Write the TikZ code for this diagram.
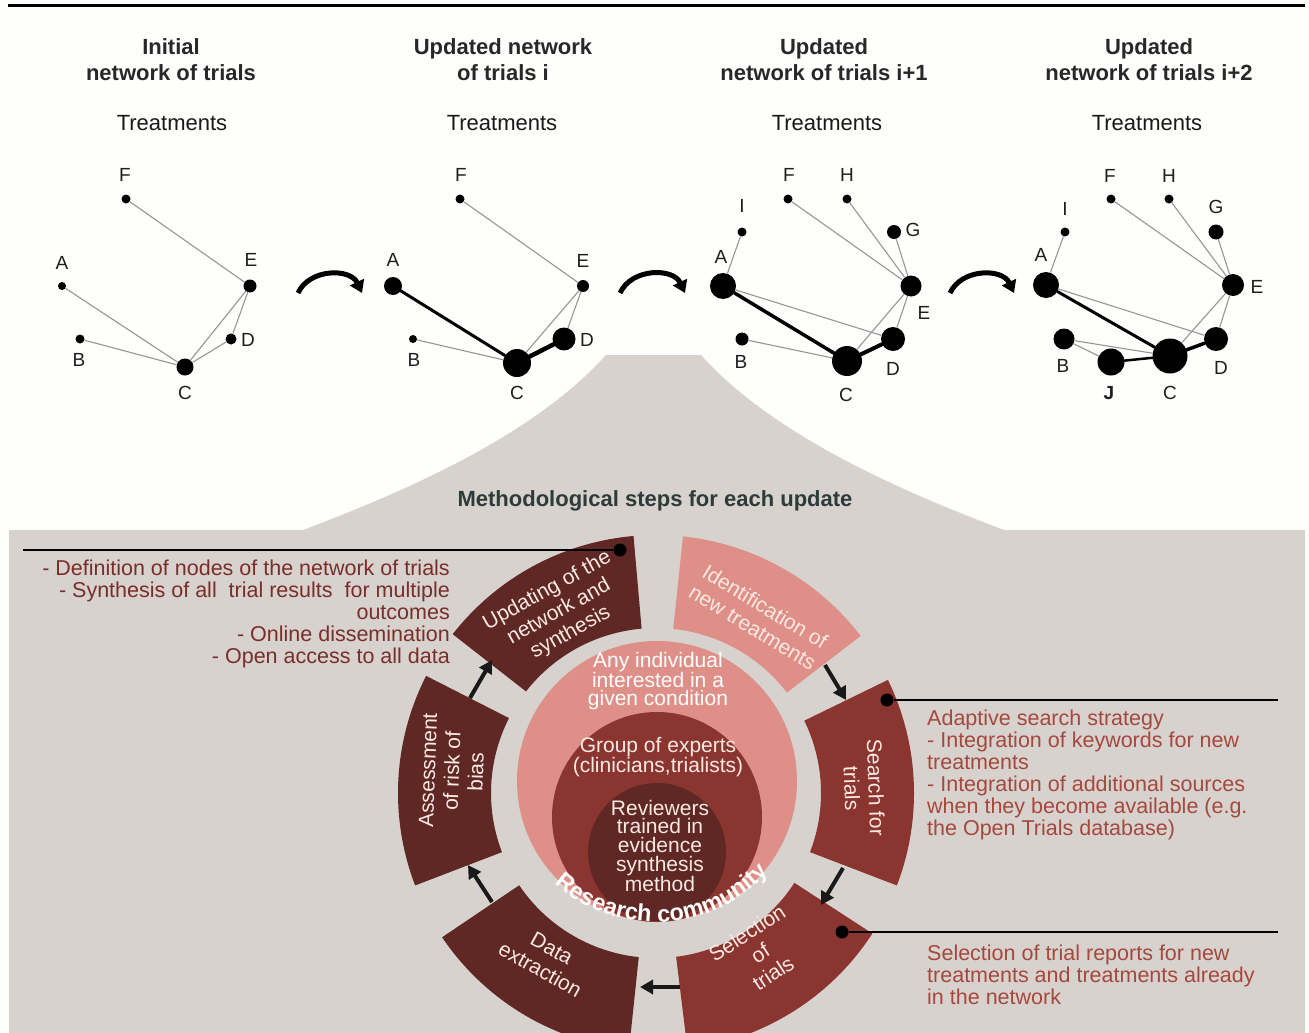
\documentclass[tikz,border=0pt]{standalone}
\usepackage{fontspec}
\setmainfont{Liberation Sans}
\usetikzlibrary{arrows.meta,calc,decorations.text}

\definecolor{paper}{RGB}{254,254,252}
\definecolor{mount}{RGB}{215,210,205}
\definecolor{darkseg}{RGB}{95,40,37}
\definecolor{midseg}{RGB}{139,53,48}
\definecolor{lightseg}{RGB}{222,143,136}
\definecolor{segtext}{RGB}{250,232,226}
\definecolor{leftnote}{RGB}{122,46,42}
\definecolor{rightnote}{RGB}{165,72,62}
\definecolor{titletxt}{RGB}{45,60,58}
\definecolor{headtxt}{RGB}{40,40,40}
\definecolor{lbltxt}{RGB}{30,30,30}
\definecolor{edgegray}{RGB}{150,150,150}

% annular sector of the process wheel: colour, start angle, end angle
\newcommand\ringpart[3]{%
  \fill[#1] ($(W)+(#2:258)$) arc[start angle=#2,end angle=#3,radius=258]
    -- ($(W)+(#3:165)$) arc[start angle=#3,end angle=#2,radius=165] -- cycle;}

\tikzset{
  head/.style={font=\fontsize{22}{26}\selectfont\bfseries, text=headtxt, align=center, anchor=north, inner sep=0pt},
  treat/.style={font=\fontsize{22}{26}\selectfont, text=black!90, anchor=base, inner sep=0pt},
  lbl/.style={font=\fontsize{19}{20}\selectfont, text=lbltxt, inner sep=0pt},
  dot/.style={circle, fill=black, inner sep=0pt, minimum size=#1},
  lightedge/.style={draw=edgegray, line width=1.1pt},
  boldedge/.style={draw=black, line width=#1, line cap=round},
  bendarrow/.style={draw=black, line width=5pt, -{Triangle[length=12pt,width=15pt]}},
  wheelarrow/.style={draw=black!90, line width=4pt, -{Triangle[length=13pt,width=14pt]}},
  segtxt/.style={font=\fontsize{21}{24}\selectfont, text=segtext, align=center, inner sep=0pt},
  coretxt/.style={font=\fontsize{21}{#1}\selectfont, text=segtext, align=center, inner sep=0pt},
  note/.style={font=\fontsize{21.5}{22}\selectfont, inner sep=0pt},
  notedot/.style={circle, fill=black, inner sep=0pt, minimum size=13pt},
  noteline/.style={draw=black, line width=2.4pt},
}

\begin{document}
\begin{tikzpicture}[x=1pt,y=1pt]
\useasboundingbox (0,0) rectangle (1309,-1033);
\clip (0,0) rectangle (1309,-1033);
\fill[paper] (0,0) rectangle (1309,-1033);

% top rule
\draw[line width=3pt, black] (8,-5.5) -- (1305,-5.5);

% grey mountain holding the process wheel
\fill[mount] (9,-1033) -- (9,-530) -- (303,-530)
  .. controls (390,-497) and (530,-440) .. (606,-355) -- (701,-355)
  .. controls (777,-440) and (917,-497) .. (1004,-530)
  -- (1305,-530) -- (1305,-1033) -- cycle;

% headings
\node[head] (h1) at (171,-38) {Initial\\network of trials};
\node[head] (h2) at (503,-38) {Updated network\\of trials i};
\node[head] (h3) at (824,-38) {Updated\\network of trials i+1};
\node[head] (h4) at (1149,-38) {Updated\\network of trials i+2};
\node[treat] (t1) at (172,-130.5) {Treatments};
\node[treat] (t2) at (502,-130.5) {Treatments};
\node[treat] (t3) at (827,-130.5) {Treatments};
\node[treat] (t4) at (1147,-130.5) {Treatments};

% ---- network 1
\node[dot=9] (aF) at (126,-199) {};
\node[dot=8] (aA) at (62,-286) {};
\node[dot=13] (aE) at (250,-286) {};
\node[dot=9] (aB) at (80,-339) {};
\node[dot=11] (aD) at (231,-339) {};
\node[dot=17] (aC) at (185,-367) {};
\node[lbl] (aFl) at (125,-175) {F};
\node[lbl] (aAl) at (62,-263) {A};
\node[lbl] (aEl) at (251,-260) {E};
\node[lbl] (aBl) at (79,-360) {B};
\node[lbl] (aDl) at (248,-340) {D};
\node[lbl] (aCl) at (185,-393) {C};
\path[lightedge] (aF) -- (aE) (aA) -- (aC) (aB) -- (aC) (aC) -- (aE) (aC) -- (aD) (aD) -- (aE);

% ---- network 2
\node[dot=9] (bF) at (460,-199) {};
\node[dot=18] (bA) at (393,-286) {};
\node[dot=12] (bE) at (583,-286) {};
\node[dot=8] (bB) at (413,-339) {};
\node[dot=23] (bD) at (564,-339) {};
\node[dot=28] (bC) at (517,-363) {};
\node[lbl] (bFl) at (461,-175) {F};
\node[lbl] (bAl) at (393,-260) {A};
\node[lbl] (bEl) at (583,-261) {E};
\node[lbl] (bBl) at (414,-360) {B};
\node[lbl] (bDl) at (587,-340) {D};
\node[lbl] (bCl) at (517,-393) {C};
\path[lightedge] (bF) -- (bE) (bB) -- (bC) (bC) -- (bE) (bD) -- (bE);
\path[boldedge=3pt] (bA) -- (bC);
\path[boldedge=4.5pt] (bC) -- (bD);

% ---- network 3
\node[dot=9] (cI) at (742,-232) {};
\node[dot=9] (cF) at (788,-199) {};
\node[dot=9] (cH) at (847,-199) {};
\node[dot=14] (cG) at (894,-232) {};
\node[dot=26] (cA) at (723,-286) {};
\node[dot=21] (cE) at (911,-286) {};
\node[dot=13] (cB) at (742,-339) {};
\node[dot=24] (cD) at (893,-339) {};
\node[dot=30] (cC) at (847,-361) {};
\node[lbl] (cIl) at (742,-206) {I};
\node[lbl] (cFl) at (789,-175) {F};
\node[lbl] (cHl) at (847,-175) {H};
\node[lbl] (cGl) at (913,-230) {G};
\node[lbl] (cAl) at (721,-257) {A};
\node[lbl] (cEl) at (924,-313) {E};
\node[lbl] (cBl) at (741,-362) {B};
\node[lbl] (cDl) at (893,-369) {D};
\node[lbl] (cCl) at (846,-395) {C};
\path[lightedge] (cI) -- (cA) (cF) -- (cE) (cH) -- (cE) (cG) -- (cE) (cA) -- (cD)
  (cB) -- (cC) (cC) -- (cE) (cD) -- (cE);
\path[boldedge=3.5pt] (cA) -- (cC);
\path[boldedge=4pt] (cC) -- (cD);

% ---- network 4
\node[dot=9] (dI) at (1065,-232) {};
\node[dot=9] (dF) at (1111,-199) {};
\node[dot=9] (dH) at (1169,-199) {};
\node[dot=15] (dG) at (1216,-232) {};
\node[dot=26] (dA) at (1046,-285) {};
\node[dot=22] (dE) at (1233,-285) {};
\node[dot=21] (dB) at (1064,-339) {};
\node[dot=27] (dJ) at (1111,-362) {};
\node[dot=35] (dC) at (1170,-356) {};
\node[dot=24] (dD) at (1216,-339) {};
\node[lbl] (dIl) at (1065,-209) {I};
\node[lbl] (dFl) at (1110,-176) {F};
\node[lbl] (dHl) at (1169,-176) {H};
\node[lbl] (dGl) at (1216,-207) {G};
\node[lbl] (dAl) at (1041,-255) {A};
\node[lbl] (dEl) at (1257,-287) {E};
\node[lbl] (dBl) at (1063,-366) {B};
\node[lbl, font=\fontsize{19}{20}\selectfont\bfseries] (dJl) at (1109,-393) {J};
\node[lbl] (dCl) at (1170,-393) {C};
\node[lbl] (dDl) at (1221,-368) {D};
\path[lightedge] (dI) -- (dA) (dF) -- (dE) (dH) -- (dE) (dG) -- (dE) (dA) -- (dD)
  (dB) -- (dC) (dB) -- (dJ) (dC) -- (dE) (dD) -- (dE);
\path[boldedge=3pt] (dA) -- (dC);
\path[boldedge=2.5pt] (dJ) -- (dC);
\path[boldedge=3.5pt] (dC) -- (dD);

% curved arrows between successive networks
\coordinate (s1) at (298,-293); \coordinate (e1) at (362,-293);
\coordinate (s2) at (620,-293); \coordinate (e2) at (685,-293);
\coordinate (s3) at (950,-293); \coordinate (e3) at (1014,-293);
\draw[bendarrow] (s1) to[bend left=65, looseness=1.1] (e1);
\draw[bendarrow] (s2) to[bend left=65, looseness=1.1] (e2);
\draw[bendarrow] (s3) to[bend left=65, looseness=1.1] (e3);

% title of the lower panel
\node[font=\fontsize{22}{24}\selectfont\bfseries, text=titletxt, anchor=base, inner sep=0pt]
  (steps) at (655,-506) {Methodological steps for each update};

% ---- process wheel
\coordinate (W) at (656,-793);
\ringpart{midseg}{-21}{26}
\ringpart{lightseg}{37.5}{84}
\ringpart{darkseg}{95}{142}
\ringpart{darkseg}{153}{201}
\ringpart{darkseg}{214}{264}
\ringpart{midseg}{277}{327}

% nested circles of the research community
\fill[lightseg] (657,-781) circle[radius=140];
\fill[midseg] (657,-817) circle[radius=105];
\fill[darkseg] (657,-852) circle[radius=69];

\node[segtxt, rotate=29] (sUpd) at (559,-612) {Updating of the\\network and\\synthesis};
\node[segtxt, rotate=-31] (sIde) at (759,-617) {Identification of\\new treatments};
\node[segtxt, rotate=-88] (sSea) at (864,-788) {Search for\\trials};
\node[segtxt, rotate=33] (sSel) at (760,-953) {Selection\\of\\trials};
\node[segtxt, rotate=-29] (sDat) at (546,-959) {Data\\extraction};
\node[segtxt, rotate=88] (sAss) at (452,-771) {Assessment\\of risk of\\bias};

\node[coretxt=17.5, text=white] (cAny) at (658,-681) {Any individual\\interested in a\\given condition};
\node[coretxt=20] (cGrp) at (658,-757) {Group of experts\\(clinicians,trialists)};
\node[coretxt=18.7] (cRev) at (660,-846) {Reviewers\\trained in\\evidence\\synthesis\\method};

\coordinate (RC) at (656,-770);
\path[decorate, decoration={text along path, text align=center,
    text={|\fontsize{23.5}{23.5}\selectfont\bfseries\color{white}|Research community}}]
  ($(RC)+(-147:152)$) arc[start angle=-147, end angle=-27, radius=152];

% arrows between the steps
\coordinate (w1s) at (825,-665); \coordinate (w1e) at (846,-700);
\coordinate (w2s) at (843,-868); \coordinate (w2e) at (821,-905);
\coordinate (w3s) at (680,-987); \coordinate (w3e) at (640,-987);
\coordinate (w4s) at (492,-902); \coordinate (w4e) at (468,-865);
\coordinate (w5s) at (470,-698); \coordinate (w5e) at (492,-660);
\draw[wheelarrow] (w1s) -- (w1e);
\draw[wheelarrow] (w2s) -- (w2e);
\draw[wheelarrow] (w3s) -- (w3e);
\draw[wheelarrow] (w4s) -- (w4e);
\draw[wheelarrow] (w5s) -- (w5e);

% call-outs
\node[notedot] (p1) at (620,-550) {};
\coordinate (p1end) at (23,-550);
\draw[noteline] (p1) -- (p1end);
\node[notedot] (p2) at (887,-700) {};
\coordinate (p2end) at (1278,-700);
\draw[noteline] (p2) -- (p2end);
\node[notedot] (p3) at (842,-932) {};
\coordinate (p3end) at (1278,-932);
\draw[noteline] (p3) -- (p3end);

\node[note, text=leftnote, align=right, anchor=north east] (nLeft) at (450,-560)
  {- Definition of nodes of the network of trials\\- Synthesis of all\ \ trial results\ \ for multiple\\outcomes\\- Online dissemination\\- Open access to all data};
\node[note, text=rightnote, align=left, anchor=north west] (nSearch) at (927,-710)
  {Adaptive search strategy\\- Integration of keywords for new\\treatments\\- Integration of additional sources\\when they become available (e.g.\\the Open Trials database)};
\node[note, text=rightnote, align=left, anchor=north west] (nSel) at (927,-945)
  {Selection of trial reports for new\\treatments and treatments already\\in the network};
\end{tikzpicture}
\end{document}
